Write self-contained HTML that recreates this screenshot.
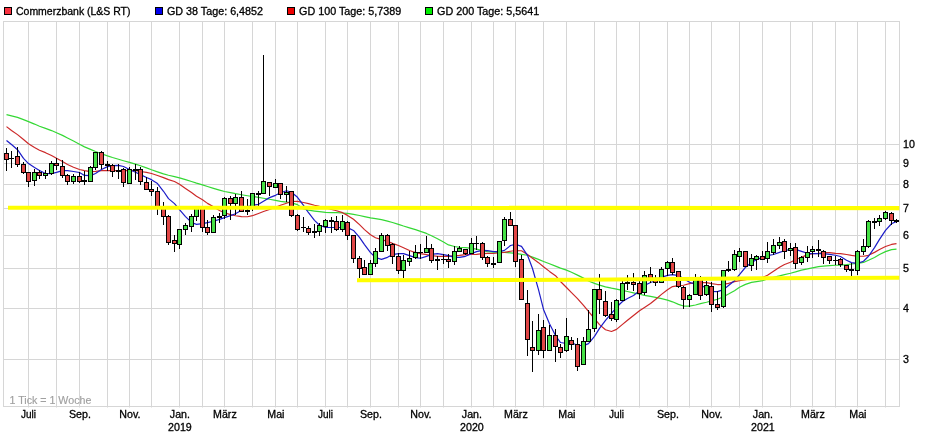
<!DOCTYPE html>
<html lang="de"><head><meta charset="utf-8"><title>Commerzbank (L&amp;S RT) Chart</title>
<style>html,body{margin:0;padding:0;background:#fff}body{width:933px;height:436px;overflow:hidden}svg{display:block}text{font-family:"Liberation Sans",Arial,Helvetica,sans-serif;font-size:10.67px;fill:#000;stroke:#000;stroke-width:0.3px}</style>
</head><body>
<svg width="933" height="436" viewBox="0 0 933 436">
<rect x="0" y="0" width="933" height="436" fill="#fff"/>
<g stroke="#d6d6d6" stroke-width="1" fill="none">
<line x1="28.5" y1="21.5" x2="28.5" y2="407.5"/>
<line x1="56.5" y1="21.5" x2="56.5" y2="407.5"/>
<line x1="79.5" y1="21.5" x2="79.5" y2="407.5"/>
<line x1="107.5" y1="21.5" x2="107.5" y2="407.5"/>
<line x1="129.5" y1="21.5" x2="129.5" y2="407.5"/>
<line x1="151.5" y1="21.5" x2="151.5" y2="407.5"/>
<line x1="179.5" y1="21.5" x2="179.5" y2="407.5"/>
<line x1="202.5" y1="21.5" x2="202.5" y2="407.5"/>
<line x1="224.5" y1="21.5" x2="224.5" y2="407.5"/>
<line x1="252.5" y1="21.5" x2="252.5" y2="407.5"/>
<line x1="275.5" y1="21.5" x2="275.5" y2="407.5"/>
<line x1="297.5" y1="21.5" x2="297.5" y2="407.5"/>
<line x1="325.5" y1="21.5" x2="325.5" y2="407.5"/>
<line x1="347.5" y1="21.5" x2="347.5" y2="407.5"/>
<line x1="370.5" y1="21.5" x2="370.5" y2="407.5"/>
<line x1="398.5" y1="21.5" x2="398.5" y2="407.5"/>
<line x1="420.5" y1="21.5" x2="420.5" y2="407.5"/>
<line x1="443.5" y1="21.5" x2="443.5" y2="407.5"/>
<line x1="471.5" y1="21.5" x2="471.5" y2="407.5"/>
<line x1="493.5" y1="21.5" x2="493.5" y2="407.5"/>
<line x1="515.5" y1="21.5" x2="515.5" y2="407.5"/>
<line x1="543.5" y1="21.5" x2="543.5" y2="407.5"/>
<line x1="566.5" y1="21.5" x2="566.5" y2="407.5"/>
<line x1="594.5" y1="21.5" x2="594.5" y2="407.5"/>
<line x1="616.5" y1="21.5" x2="616.5" y2="407.5"/>
<line x1="639.5" y1="21.5" x2="639.5" y2="407.5"/>
<line x1="667.5" y1="21.5" x2="667.5" y2="407.5"/>
<line x1="689.5" y1="21.5" x2="689.5" y2="407.5"/>
<line x1="711.5" y1="21.5" x2="711.5" y2="407.5"/>
<line x1="739.5" y1="21.5" x2="739.5" y2="407.5"/>
<line x1="762.5" y1="21.5" x2="762.5" y2="407.5"/>
<line x1="790.5" y1="21.5" x2="790.5" y2="407.5"/>
<line x1="812.5" y1="21.5" x2="812.5" y2="407.5"/>
<line x1="835.5" y1="21.5" x2="835.5" y2="407.5"/>
<line x1="857.5" y1="21.5" x2="857.5" y2="407.5"/>
<line x1="885.5" y1="21.5" x2="885.5" y2="407.5"/>
<line x1="3.5" y1="144.5" x2="899.5" y2="144.5"/>
<line x1="3.5" y1="163.5" x2="899.5" y2="163.5"/>
<line x1="3.5" y1="184.5" x2="899.5" y2="184.5"/>
<line x1="3.5" y1="208.5" x2="899.5" y2="208.5"/>
<line x1="3.5" y1="235.5" x2="899.5" y2="235.5"/>
<line x1="3.5" y1="268.5" x2="899.5" y2="268.5"/>
<line x1="3.5" y1="308.5" x2="899.5" y2="308.5"/>
<line x1="3.5" y1="359.5" x2="899.5" y2="359.5"/>
<rect x="3.5" y="21.5" width="896.0" height="385.0"/>
</g>
<text x="9.5" y="403.5" style="fill:#a0a0a0;stroke:#a0a0a0;stroke-width:0.15px">1 Tick = 1 Woche</text>
<polyline fill="none" stroke="#34d834" stroke-width="1.2" stroke-linejoin="round" stroke-linecap="butt" points="6.5,114.62 11.5,115.86 17.5,117.40 23.5,119.58 28.5,121.61 34.5,124.07 39.5,126.26 45.5,128.41 51.5,130.57 56.5,132.80 62.5,135.39 67.5,138.02 73.5,141.06 79.5,144.18 84.5,146.87 90.5,149.37 95.5,151.53 101.5,153.71 107.5,155.84 112.5,157.49 118.5,159.29 123.5,160.73 129.5,162.35 135.5,164.15 140.5,165.78 146.5,167.86 151.5,169.76 157.5,171.86 163.5,173.90 168.5,175.22 174.5,176.58 179.5,177.86 185.5,179.68 191.5,181.52 196.5,183.11 202.5,184.87 207.5,186.49 213.5,188.33 219.5,190.06 224.5,191.51 230.5,192.70 235.5,193.71 241.5,194.75 247.5,195.76 252.5,196.50 258.5,197.32 263.5,198.22 269.5,199.26 275.5,200.36 280.5,201.30 286.5,202.06 291.5,202.82 297.5,204.62 303.5,208.89 308.5,210.15 314.5,211.05 319.5,211.69 325.5,212.34 331.5,212.56 336.5,212.72 342.5,213.02 347.5,213.38 353.5,214.39 359.5,215.51 364.5,216.63 370.5,217.86 375.5,218.70 381.5,219.69 387.5,221.15 392.5,222.54 398.5,224.38 403.5,226.05 409.5,227.85 415.5,229.66 420.5,231.40 426.5,233.43 431.5,235.81 437.5,238.68 443.5,242.06 448.5,244.90 454.5,246.47 459.5,247.29 465.5,247.72 471.5,248.36 476.5,249.09 482.5,250.46 487.5,251.56 493.5,252.19 499.5,252.38 504.5,252.44 510.5,252.81 515.5,253.29 521.5,254.35 527.5,255.28 532.5,257.09 538.5,259.34 543.5,261.44 549.5,263.76 555.5,266.12 560.5,268.10 566.5,270.17 571.5,272.19 577.5,275.14 583.5,278.14 588.5,280.97 594.5,283.35 599.5,285.06 605.5,286.83 611.5,288.19 616.5,289.16 622.5,290.37 627.5,291.53 633.5,292.90 639.5,294.25 644.5,295.30 650.5,296.42 655.5,297.44 661.5,298.64 667.5,300.15 672.5,301.82 678.5,304.39 683.5,306.03 689.5,306.08 695.5,304.97 700.5,303.70 706.5,302.24 711.5,300.90 717.5,299.25 723.5,296.71 728.5,294.06 734.5,290.67 739.5,287.30 745.5,284.41 751.5,282.35 756.5,281.55 762.5,280.67 767.5,278.83 773.5,277.31 779.5,275.89 784.5,274.57 790.5,273.22 795.5,271.94 801.5,270.07 807.5,268.94 812.5,267.80 818.5,266.67 823.5,266.11 829.5,265.60 835.5,265.24 840.5,265.14 846.5,264.67 851.5,264.02 857.5,263.46 863.5,262.43 868.5,260.28 874.5,257.44 879.5,254.55 885.5,251.64 891.5,249.62 896.5,249.21"/>
<polyline fill="none" stroke="#cc2828" stroke-width="1.2" stroke-linejoin="round" stroke-linecap="butt" points="6.5,126.64 11.5,130.46 17.5,134.62 23.5,139.58 28.5,143.70 34.5,147.47 39.5,150.25 45.5,152.67 51.5,155.57 56.5,158.33 62.5,161.49 67.5,164.46 73.5,167.28 79.5,169.49 84.5,170.58 90.5,171.56 95.5,171.41 101.5,170.68 107.5,170.65 112.5,170.64 118.5,170.55 123.5,170.48 129.5,170.57 135.5,170.71 140.5,171.50 146.5,172.40 151.5,173.49 157.5,175.45 163.5,177.58 168.5,179.64 174.5,181.55 179.5,184.29 185.5,188.42 191.5,192.60 196.5,196.30 202.5,199.68 207.5,203.39 213.5,206.74 219.5,210.42 224.5,212.74 230.5,214.69 235.5,215.75 241.5,216.66 247.5,216.74 252.5,215.69 258.5,213.44 263.5,211.52 269.5,209.45 275.5,207.29 280.5,205.28 286.5,203.27 291.5,201.48 297.5,201.46 303.5,202.49 308.5,203.56 314.5,205.27 319.5,206.44 325.5,207.70 331.5,209.47 336.5,210.71 342.5,212.67 347.5,215.38 353.5,219.31 359.5,224.64 364.5,229.59 370.5,234.69 375.5,237.71 381.5,239.68 387.5,241.36 392.5,243.34 398.5,245.52 403.5,247.70 409.5,250.54 415.5,252.61 420.5,253.65 426.5,254.68 431.5,255.53 437.5,256.36 443.5,256.40 448.5,256.37 454.5,255.63 459.5,255.42 465.5,254.71 471.5,254.48 476.5,254.28 482.5,253.53 487.5,253.41 493.5,253.50 499.5,252.73 504.5,252.31 510.5,251.27 515.5,250.53 521.5,250.75 527.5,254.42 532.5,258.35 538.5,262.64 543.5,266.69 549.5,271.40 555.5,275.71 560.5,281.48 566.5,287.46 571.5,292.60 577.5,298.62 583.5,305.31 588.5,311.45 594.5,318.65 599.5,324.66 605.5,329.74 611.5,331.49 616.5,329.40 622.5,324.39 627.5,320.27 633.5,315.44 639.5,310.67 644.5,307.42 650.5,303.52 655.5,299.49 661.5,294.40 667.5,289.66 672.5,286.60 678.5,285.56 683.5,285.26 689.5,283.70 695.5,282.66 700.5,282.60 706.5,282.69 711.5,283.67 717.5,284.53 723.5,284.30 728.5,283.32 734.5,281.58 739.5,280.63 745.5,279.62 751.5,278.62 756.5,278.32 762.5,277.43 767.5,275.32 773.5,271.30 779.5,267.34 784.5,264.48 790.5,262.29 795.5,259.70 801.5,257.28 807.5,254.62 812.5,253.56 818.5,253.35 823.5,252.68 829.5,252.68 835.5,253.36 840.5,253.63 846.5,254.51 851.5,255.44 857.5,256.26 863.5,256.26 868.5,255.31 874.5,252.39 879.5,249.46 885.5,246.48 891.5,244.45 896.5,243.61"/>
<polyline fill="none" stroke="#1c1cc8" stroke-width="1.2" stroke-linejoin="round" stroke-linecap="butt" points="6.5,140.54 11.5,144.56 17.5,149.68 23.5,158.31 28.5,163.55 34.5,167.39 39.5,170.42 45.5,173.52 51.5,173.62 56.5,172.38 62.5,170.57 67.5,170.63 73.5,171.47 79.5,172.53 84.5,175.41 90.5,175.61 95.5,173.45 101.5,169.43 107.5,166.60 112.5,165.63 118.5,165.33 123.5,166.53 129.5,169.53 135.5,172.29 140.5,174.63 146.5,177.45 151.5,179.67 157.5,183.54 163.5,191.28 168.5,198.63 174.5,203.63 179.5,209.68 185.5,216.65 191.5,222.44 196.5,224.35 202.5,223.71 207.5,222.63 213.5,221.28 219.5,219.41 224.5,217.60 230.5,215.68 235.5,213.73 241.5,210.33 247.5,206.63 252.5,205.51 258.5,204.32 263.5,201.30 269.5,197.63 275.5,195.32 280.5,192.72 286.5,190.72 291.5,192.25 297.5,197.29 303.5,205.38 308.5,212.72 314.5,220.31 319.5,225.28 325.5,227.34 331.5,227.49 336.5,227.50 342.5,227.50 347.5,227.62 353.5,230.46 359.5,237.30 364.5,244.58 370.5,252.60 375.5,257.48 381.5,259.43 387.5,257.32 392.5,254.64 398.5,253.56 403.5,253.63 409.5,255.65 415.5,257.58 420.5,258.27 426.5,256.34 431.5,254.44 437.5,253.69 443.5,254.56 448.5,255.65 454.5,257.31 459.5,257.40 465.5,256.32 471.5,253.70 476.5,251.67 482.5,250.34 487.5,250.55 493.5,251.67 499.5,251.66 504.5,250.37 510.5,245.51 515.5,244.30 521.5,246.39 527.5,255.32 532.5,268.53 538.5,289.71 543.5,309.44 549.5,323.67 555.5,335.51 560.5,342.53 566.5,343.52 571.5,342.70 577.5,345.26 583.5,345.58 588.5,343.57 594.5,336.35 599.5,328.34 605.5,320.45 611.5,313.46 616.5,307.27 622.5,301.51 627.5,298.55 633.5,295.44 639.5,290.66 644.5,285.49 650.5,282.45 655.5,280.75 661.5,277.38 667.5,275.42 672.5,274.56 678.5,275.60 683.5,278.61 689.5,282.29 695.5,284.41 700.5,285.62 706.5,287.62 711.5,291.29 717.5,291.58 723.5,289.60 728.5,285.57 734.5,280.72 739.5,274.69 745.5,267.25 751.5,262.53 756.5,259.67 762.5,257.42 767.5,255.68 773.5,254.50 779.5,252.43 784.5,250.73 790.5,249.31 795.5,249.31 801.5,251.32 807.5,253.30 812.5,253.69 818.5,253.53 823.5,253.62 829.5,254.45 835.5,255.25 840.5,256.50 846.5,260.27 851.5,262.63 857.5,263.37 863.5,261.27 868.5,256.28 874.5,247.60 879.5,239.40 885.5,230.30 891.5,223.74 896.5,221.39"/>
<g shape-rendering="crispEdges">
<rect x="6" y="148" width="1" height="23" fill="#000"/>
<rect x="4" y="153" width="5" height="7" fill="#000"/>
<rect x="5" y="154" width="3" height="5" fill="#e04646"/>
<rect x="11" y="151" width="1" height="17" fill="#000"/>
<rect x="9" y="158" width="5" height="1" fill="#000"/>
<rect x="17" y="147" width="1" height="20" fill="#000"/>
<rect x="15" y="156" width="5" height="9" fill="#000"/>
<rect x="16" y="157" width="3" height="7" fill="#e04646"/>
<rect x="23" y="162" width="1" height="12" fill="#000"/>
<rect x="21" y="164" width="5" height="9" fill="#000"/>
<rect x="22" y="165" width="3" height="7" fill="#e04646"/>
<rect x="28" y="172" width="1" height="15" fill="#000"/>
<rect x="26" y="172" width="5" height="10" fill="#000"/>
<rect x="27" y="173" width="3" height="8" fill="#e04646"/>
<rect x="34" y="169" width="1" height="17" fill="#000"/>
<rect x="32" y="172" width="5" height="9" fill="#000"/>
<rect x="33" y="173" width="3" height="7" fill="#46e046"/>
<rect x="39" y="170" width="1" height="9" fill="#000"/>
<rect x="37" y="172" width="5" height="4" fill="#000"/>
<rect x="38" y="173" width="3" height="2" fill="#e04646"/>
<rect x="45" y="170" width="1" height="9" fill="#000"/>
<rect x="43" y="173" width="5" height="3" fill="#000"/>
<rect x="44" y="174" width="3" height="1" fill="#46e046"/>
<rect x="51" y="161" width="1" height="14" fill="#000"/>
<rect x="49" y="163" width="5" height="11" fill="#000"/>
<rect x="50" y="164" width="3" height="9" fill="#46e046"/>
<rect x="56" y="158" width="1" height="12" fill="#000"/>
<rect x="54" y="163" width="5" height="3" fill="#000"/>
<rect x="55" y="164" width="3" height="1" fill="#e04646"/>
<rect x="62" y="160" width="1" height="18" fill="#000"/>
<rect x="60" y="166" width="5" height="10" fill="#000"/>
<rect x="61" y="167" width="3" height="8" fill="#e04646"/>
<rect x="67" y="174" width="1" height="11" fill="#000"/>
<rect x="65" y="175" width="5" height="7" fill="#000"/>
<rect x="66" y="176" width="3" height="5" fill="#e04646"/>
<rect x="73" y="174" width="1" height="10" fill="#000"/>
<rect x="71" y="176" width="5" height="6" fill="#000"/>
<rect x="72" y="177" width="3" height="4" fill="#46e046"/>
<rect x="79" y="172" width="1" height="11" fill="#000"/>
<rect x="77" y="176" width="5" height="6" fill="#000"/>
<rect x="78" y="177" width="3" height="4" fill="#e04646"/>
<rect x="84" y="171" width="1" height="14" fill="#000"/>
<rect x="82" y="180" width="5" height="2" fill="#000"/>
<rect x="90" y="166" width="1" height="16" fill="#000"/>
<rect x="88" y="167" width="5" height="15" fill="#000"/>
<rect x="89" y="168" width="3" height="13" fill="#46e046"/>
<rect x="95" y="152" width="1" height="18" fill="#000"/>
<rect x="93" y="152" width="5" height="16" fill="#000"/>
<rect x="94" y="153" width="3" height="14" fill="#46e046"/>
<rect x="101" y="151" width="1" height="18" fill="#000"/>
<rect x="99" y="152" width="5" height="13" fill="#000"/>
<rect x="100" y="153" width="3" height="11" fill="#e04646"/>
<rect x="107" y="161" width="1" height="10" fill="#000"/>
<rect x="105" y="164" width="5" height="2" fill="#000"/>
<rect x="112" y="164" width="1" height="13" fill="#000"/>
<rect x="110" y="165" width="5" height="7" fill="#000"/>
<rect x="111" y="166" width="3" height="5" fill="#e04646"/>
<rect x="118" y="164" width="1" height="15" fill="#000"/>
<rect x="116" y="170" width="5" height="2" fill="#000"/>
<rect x="123" y="168" width="1" height="19" fill="#000"/>
<rect x="121" y="169" width="5" height="14" fill="#000"/>
<rect x="122" y="170" width="3" height="12" fill="#e04646"/>
<rect x="129" y="167" width="1" height="17" fill="#000"/>
<rect x="127" y="169" width="5" height="15" fill="#000"/>
<rect x="128" y="170" width="3" height="13" fill="#46e046"/>
<rect x="135" y="164" width="1" height="16" fill="#000"/>
<rect x="133" y="169" width="5" height="2" fill="#000"/>
<rect x="140" y="167" width="1" height="18" fill="#000"/>
<rect x="138" y="169" width="5" height="13" fill="#000"/>
<rect x="139" y="170" width="3" height="11" fill="#e04646"/>
<rect x="146" y="177" width="1" height="13" fill="#000"/>
<rect x="144" y="182" width="5" height="8" fill="#000"/>
<rect x="145" y="183" width="3" height="6" fill="#e04646"/>
<rect x="151" y="181" width="1" height="15" fill="#000"/>
<rect x="149" y="189" width="5" height="3" fill="#000"/>
<rect x="150" y="190" width="3" height="1" fill="#e04646"/>
<rect x="157" y="187" width="1" height="28" fill="#000"/>
<rect x="155" y="191" width="5" height="17" fill="#000"/>
<rect x="156" y="192" width="3" height="15" fill="#e04646"/>
<rect x="163" y="202" width="1" height="23" fill="#000"/>
<rect x="161" y="207" width="5" height="10" fill="#000"/>
<rect x="162" y="208" width="3" height="8" fill="#e04646"/>
<rect x="168" y="215" width="1" height="30" fill="#000"/>
<rect x="166" y="216" width="5" height="27" fill="#000"/>
<rect x="167" y="217" width="3" height="25" fill="#e04646"/>
<rect x="174" y="235" width="1" height="17" fill="#000"/>
<rect x="172" y="240" width="5" height="4" fill="#000"/>
<rect x="173" y="241" width="3" height="2" fill="#e04646"/>
<rect x="179" y="229" width="1" height="20" fill="#000"/>
<rect x="177" y="229" width="5" height="16" fill="#000"/>
<rect x="178" y="230" width="3" height="14" fill="#46e046"/>
<rect x="185" y="223" width="1" height="12" fill="#000"/>
<rect x="183" y="225" width="5" height="5" fill="#000"/>
<rect x="184" y="226" width="3" height="3" fill="#46e046"/>
<rect x="191" y="214" width="1" height="18" fill="#000"/>
<rect x="189" y="216" width="5" height="11" fill="#000"/>
<rect x="190" y="217" width="3" height="9" fill="#46e046"/>
<rect x="196" y="206" width="1" height="15" fill="#000"/>
<rect x="194" y="207" width="5" height="10" fill="#000"/>
<rect x="195" y="208" width="3" height="8" fill="#46e046"/>
<rect x="202" y="206" width="1" height="26" fill="#000"/>
<rect x="200" y="207" width="5" height="21" fill="#000"/>
<rect x="201" y="208" width="3" height="19" fill="#e04646"/>
<rect x="207" y="220" width="1" height="15" fill="#000"/>
<rect x="205" y="227" width="5" height="6" fill="#000"/>
<rect x="206" y="228" width="3" height="4" fill="#e04646"/>
<rect x="213" y="215" width="1" height="18" fill="#000"/>
<rect x="211" y="217" width="5" height="16" fill="#000"/>
<rect x="212" y="218" width="3" height="14" fill="#46e046"/>
<rect x="219" y="213" width="1" height="10" fill="#000"/>
<rect x="217" y="216" width="5" height="2" fill="#000"/>
<rect x="224" y="197" width="1" height="22" fill="#000"/>
<rect x="222" y="198" width="5" height="18" fill="#000"/>
<rect x="223" y="199" width="3" height="16" fill="#46e046"/>
<rect x="230" y="196" width="1" height="24" fill="#000"/>
<rect x="228" y="198" width="5" height="6" fill="#000"/>
<rect x="229" y="199" width="3" height="4" fill="#e04646"/>
<rect x="235" y="194" width="1" height="21" fill="#000"/>
<rect x="233" y="197" width="5" height="7" fill="#000"/>
<rect x="234" y="198" width="3" height="5" fill="#46e046"/>
<rect x="241" y="191" width="1" height="21" fill="#000"/>
<rect x="239" y="197" width="5" height="15" fill="#000"/>
<rect x="240" y="198" width="3" height="13" fill="#e04646"/>
<rect x="247" y="199" width="1" height="16" fill="#000"/>
<rect x="245" y="210" width="5" height="2" fill="#000"/>
<rect x="252" y="193" width="1" height="18" fill="#000"/>
<rect x="250" y="193" width="5" height="14" fill="#000"/>
<rect x="251" y="194" width="3" height="12" fill="#46e046"/>
<rect x="258" y="191" width="1" height="15" fill="#000"/>
<rect x="256" y="193" width="5" height="2" fill="#000"/>
<rect x="263" y="55" width="1" height="139" fill="#000"/>
<rect x="261" y="181" width="5" height="13" fill="#000"/>
<rect x="262" y="182" width="3" height="11" fill="#46e046"/>
<rect x="269" y="182" width="1" height="14" fill="#000"/>
<rect x="267" y="182" width="5" height="5" fill="#000"/>
<rect x="268" y="183" width="3" height="3" fill="#e04646"/>
<rect x="275" y="179" width="1" height="9" fill="#000"/>
<rect x="273" y="183" width="5" height="5" fill="#000"/>
<rect x="274" y="184" width="3" height="3" fill="#46e046"/>
<rect x="280" y="183" width="1" height="16" fill="#000"/>
<rect x="278" y="183" width="5" height="12" fill="#000"/>
<rect x="279" y="184" width="3" height="10" fill="#e04646"/>
<rect x="286" y="186" width="1" height="16" fill="#000"/>
<rect x="284" y="192" width="5" height="3" fill="#000"/>
<rect x="285" y="193" width="3" height="1" fill="#46e046"/>
<rect x="291" y="191" width="1" height="26" fill="#000"/>
<rect x="289" y="191" width="5" height="25" fill="#000"/>
<rect x="290" y="192" width="3" height="23" fill="#e04646"/>
<rect x="297" y="214" width="1" height="17" fill="#000"/>
<rect x="295" y="215" width="5" height="15" fill="#000"/>
<rect x="296" y="216" width="3" height="13" fill="#e04646"/>
<rect x="303" y="217" width="1" height="15" fill="#000"/>
<rect x="301" y="227" width="5" height="1" fill="#000"/>
<rect x="308" y="226" width="1" height="9" fill="#000"/>
<rect x="306" y="228" width="5" height="5" fill="#000"/>
<rect x="307" y="229" width="3" height="3" fill="#e04646"/>
<rect x="314" y="224" width="1" height="14" fill="#000"/>
<rect x="312" y="231" width="5" height="2" fill="#000"/>
<rect x="319" y="223" width="1" height="13" fill="#000"/>
<rect x="317" y="225" width="5" height="7" fill="#000"/>
<rect x="318" y="226" width="3" height="5" fill="#46e046"/>
<rect x="325" y="219" width="1" height="14" fill="#000"/>
<rect x="323" y="220" width="5" height="7" fill="#000"/>
<rect x="324" y="221" width="3" height="5" fill="#46e046"/>
<rect x="331" y="217" width="1" height="16" fill="#000"/>
<rect x="329" y="220" width="5" height="2" fill="#000"/>
<rect x="336" y="216" width="1" height="15" fill="#000"/>
<rect x="334" y="221" width="5" height="9" fill="#000"/>
<rect x="335" y="222" width="3" height="7" fill="#e04646"/>
<rect x="342" y="215" width="1" height="17" fill="#000"/>
<rect x="340" y="221" width="5" height="9" fill="#000"/>
<rect x="341" y="222" width="3" height="7" fill="#46e046"/>
<rect x="347" y="221" width="1" height="19" fill="#000"/>
<rect x="345" y="222" width="5" height="14" fill="#000"/>
<rect x="346" y="223" width="3" height="12" fill="#e04646"/>
<rect x="353" y="235" width="1" height="28" fill="#000"/>
<rect x="351" y="235" width="5" height="24" fill="#000"/>
<rect x="352" y="236" width="3" height="22" fill="#e04646"/>
<rect x="359" y="256" width="1" height="22" fill="#000"/>
<rect x="357" y="258" width="5" height="11" fill="#000"/>
<rect x="358" y="259" width="3" height="9" fill="#e04646"/>
<rect x="364" y="260" width="1" height="15" fill="#000"/>
<rect x="362" y="267" width="5" height="8" fill="#000"/>
<rect x="363" y="268" width="3" height="6" fill="#e04646"/>
<rect x="370" y="260" width="1" height="15" fill="#000"/>
<rect x="368" y="263" width="5" height="12" fill="#000"/>
<rect x="369" y="264" width="3" height="10" fill="#46e046"/>
<rect x="375" y="248" width="1" height="19" fill="#000"/>
<rect x="373" y="251" width="5" height="13" fill="#000"/>
<rect x="374" y="252" width="3" height="11" fill="#46e046"/>
<rect x="381" y="233" width="1" height="19" fill="#000"/>
<rect x="379" y="235" width="5" height="17" fill="#000"/>
<rect x="380" y="236" width="3" height="15" fill="#46e046"/>
<rect x="387" y="234" width="1" height="17" fill="#000"/>
<rect x="385" y="235" width="5" height="11" fill="#000"/>
<rect x="386" y="236" width="3" height="9" fill="#e04646"/>
<rect x="392" y="243" width="1" height="21" fill="#000"/>
<rect x="390" y="244" width="5" height="13" fill="#000"/>
<rect x="391" y="245" width="3" height="11" fill="#e04646"/>
<rect x="398" y="253" width="1" height="21" fill="#000"/>
<rect x="396" y="256" width="5" height="15" fill="#000"/>
<rect x="397" y="257" width="3" height="13" fill="#e04646"/>
<rect x="403" y="255" width="1" height="23" fill="#000"/>
<rect x="401" y="260" width="5" height="11" fill="#000"/>
<rect x="402" y="261" width="3" height="9" fill="#46e046"/>
<rect x="409" y="251" width="1" height="15" fill="#000"/>
<rect x="407" y="258" width="5" height="4" fill="#000"/>
<rect x="408" y="259" width="3" height="2" fill="#46e046"/>
<rect x="415" y="245" width="1" height="14" fill="#000"/>
<rect x="413" y="252" width="5" height="6" fill="#000"/>
<rect x="414" y="253" width="3" height="4" fill="#46e046"/>
<rect x="420" y="244" width="1" height="15" fill="#000"/>
<rect x="418" y="252" width="5" height="1" fill="#000"/>
<rect x="426" y="236" width="1" height="17" fill="#000"/>
<rect x="424" y="248" width="5" height="5" fill="#000"/>
<rect x="425" y="249" width="3" height="3" fill="#46e046"/>
<rect x="431" y="244" width="1" height="19" fill="#000"/>
<rect x="429" y="248" width="5" height="13" fill="#000"/>
<rect x="430" y="249" width="3" height="11" fill="#e04646"/>
<rect x="437" y="256" width="1" height="14" fill="#000"/>
<rect x="435" y="259" width="5" height="2" fill="#000"/>
<rect x="443" y="254" width="1" height="10" fill="#000"/>
<rect x="441" y="259" width="5" height="1" fill="#000"/>
<rect x="448" y="254" width="1" height="14" fill="#000"/>
<rect x="446" y="259" width="5" height="3" fill="#000"/>
<rect x="447" y="260" width="3" height="1" fill="#e04646"/>
<rect x="454" y="246" width="1" height="19" fill="#000"/>
<rect x="452" y="251" width="5" height="11" fill="#000"/>
<rect x="453" y="252" width="3" height="9" fill="#46e046"/>
<rect x="459" y="246" width="1" height="6" fill="#000"/>
<rect x="457" y="248" width="5" height="4" fill="#000"/>
<rect x="458" y="249" width="3" height="2" fill="#46e046"/>
<rect x="465" y="249" width="1" height="6" fill="#000"/>
<rect x="463" y="249" width="5" height="5" fill="#000"/>
<rect x="464" y="250" width="3" height="3" fill="#e04646"/>
<rect x="471" y="238" width="1" height="16" fill="#000"/>
<rect x="469" y="243" width="5" height="11" fill="#000"/>
<rect x="470" y="244" width="3" height="9" fill="#46e046"/>
<rect x="476" y="236" width="1" height="14" fill="#000"/>
<rect x="474" y="243" width="5" height="1" fill="#000"/>
<rect x="482" y="242" width="1" height="18" fill="#000"/>
<rect x="480" y="243" width="5" height="15" fill="#000"/>
<rect x="481" y="244" width="3" height="13" fill="#e04646"/>
<rect x="487" y="256" width="1" height="11" fill="#000"/>
<rect x="485" y="257" width="5" height="7" fill="#000"/>
<rect x="486" y="258" width="3" height="5" fill="#e04646"/>
<rect x="493" y="257" width="1" height="11" fill="#000"/>
<rect x="491" y="263" width="5" height="2" fill="#000"/>
<rect x="499" y="241" width="1" height="22" fill="#000"/>
<rect x="497" y="241" width="5" height="22" fill="#000"/>
<rect x="498" y="242" width="3" height="20" fill="#46e046"/>
<rect x="504" y="217" width="1" height="29" fill="#000"/>
<rect x="502" y="219" width="5" height="22" fill="#000"/>
<rect x="503" y="220" width="3" height="20" fill="#46e046"/>
<rect x="510" y="212" width="1" height="14" fill="#000"/>
<rect x="508" y="219" width="5" height="7" fill="#000"/>
<rect x="509" y="220" width="3" height="5" fill="#e04646"/>
<rect x="515" y="225" width="1" height="42" fill="#000"/>
<rect x="513" y="225" width="5" height="37" fill="#000"/>
<rect x="514" y="226" width="3" height="35" fill="#e04646"/>
<rect x="521" y="255" width="1" height="45" fill="#000"/>
<rect x="519" y="259" width="5" height="41" fill="#000"/>
<rect x="520" y="260" width="3" height="39" fill="#e04646"/>
<rect x="527" y="290" width="1" height="66" fill="#000"/>
<rect x="525" y="303" width="5" height="37" fill="#000"/>
<rect x="526" y="304" width="3" height="35" fill="#e04646"/>
<rect x="532" y="321" width="1" height="51" fill="#000"/>
<rect x="530" y="347" width="5" height="4" fill="#000"/>
<rect x="531" y="348" width="3" height="2" fill="#e04646"/>
<rect x="538" y="314" width="1" height="41" fill="#000"/>
<rect x="536" y="330" width="5" height="21" fill="#000"/>
<rect x="537" y="331" width="3" height="19" fill="#46e046"/>
<rect x="543" y="320" width="1" height="38" fill="#000"/>
<rect x="541" y="327" width="5" height="24" fill="#000"/>
<rect x="542" y="328" width="3" height="22" fill="#e04646"/>
<rect x="549" y="325" width="1" height="26" fill="#000"/>
<rect x="547" y="335" width="5" height="16" fill="#000"/>
<rect x="548" y="336" width="3" height="14" fill="#46e046"/>
<rect x="555" y="329" width="1" height="33" fill="#000"/>
<rect x="553" y="335" width="5" height="12" fill="#000"/>
<rect x="554" y="336" width="3" height="10" fill="#e04646"/>
<rect x="560" y="344" width="1" height="14" fill="#000"/>
<rect x="558" y="347" width="5" height="6" fill="#000"/>
<rect x="559" y="348" width="3" height="4" fill="#e04646"/>
<rect x="566" y="318" width="1" height="34" fill="#000"/>
<rect x="564" y="336" width="5" height="15" fill="#000"/>
<rect x="565" y="337" width="3" height="13" fill="#46e046"/>
<rect x="571" y="337" width="1" height="13" fill="#000"/>
<rect x="569" y="340" width="5" height="5" fill="#000"/>
<rect x="570" y="341" width="3" height="3" fill="#e04646"/>
<rect x="577" y="338" width="1" height="33" fill="#000"/>
<rect x="575" y="344" width="5" height="23" fill="#000"/>
<rect x="576" y="345" width="3" height="21" fill="#e04646"/>
<rect x="583" y="337" width="1" height="28" fill="#000"/>
<rect x="581" y="341" width="5" height="24" fill="#000"/>
<rect x="582" y="342" width="3" height="22" fill="#46e046"/>
<rect x="588" y="310" width="1" height="32" fill="#000"/>
<rect x="586" y="329" width="5" height="13" fill="#000"/>
<rect x="587" y="330" width="3" height="11" fill="#46e046"/>
<rect x="594" y="289" width="1" height="43" fill="#000"/>
<rect x="592" y="289" width="5" height="40" fill="#000"/>
<rect x="593" y="290" width="3" height="38" fill="#46e046"/>
<rect x="599" y="274" width="1" height="40" fill="#000"/>
<rect x="597" y="289" width="5" height="11" fill="#000"/>
<rect x="598" y="290" width="3" height="9" fill="#e04646"/>
<rect x="605" y="291" width="1" height="26" fill="#000"/>
<rect x="603" y="301" width="5" height="15" fill="#000"/>
<rect x="604" y="302" width="3" height="13" fill="#e04646"/>
<rect x="611" y="302" width="1" height="19" fill="#000"/>
<rect x="609" y="314" width="5" height="5" fill="#000"/>
<rect x="610" y="315" width="3" height="3" fill="#e04646"/>
<rect x="616" y="299" width="1" height="23" fill="#000"/>
<rect x="614" y="300" width="5" height="20" fill="#000"/>
<rect x="615" y="301" width="3" height="18" fill="#46e046"/>
<rect x="622" y="281" width="1" height="20" fill="#000"/>
<rect x="620" y="283" width="5" height="18" fill="#000"/>
<rect x="621" y="284" width="3" height="16" fill="#46e046"/>
<rect x="627" y="275" width="1" height="15" fill="#000"/>
<rect x="625" y="282" width="5" height="2" fill="#000"/>
<rect x="633" y="273" width="1" height="18" fill="#000"/>
<rect x="631" y="282" width="5" height="3" fill="#000"/>
<rect x="632" y="283" width="3" height="1" fill="#e04646"/>
<rect x="639" y="281" width="1" height="18" fill="#000"/>
<rect x="637" y="283" width="5" height="11" fill="#000"/>
<rect x="638" y="284" width="3" height="9" fill="#e04646"/>
<rect x="644" y="271" width="1" height="24" fill="#000"/>
<rect x="642" y="275" width="5" height="18" fill="#000"/>
<rect x="643" y="276" width="3" height="16" fill="#46e046"/>
<rect x="650" y="267" width="1" height="16" fill="#000"/>
<rect x="648" y="274" width="5" height="6" fill="#000"/>
<rect x="649" y="275" width="3" height="4" fill="#e04646"/>
<rect x="655" y="275" width="1" height="11" fill="#000"/>
<rect x="653" y="279" width="5" height="4" fill="#000"/>
<rect x="654" y="280" width="3" height="2" fill="#e04646"/>
<rect x="661" y="267" width="1" height="16" fill="#000"/>
<rect x="659" y="269" width="5" height="14" fill="#000"/>
<rect x="660" y="270" width="3" height="12" fill="#46e046"/>
<rect x="667" y="261" width="1" height="15" fill="#000"/>
<rect x="665" y="262" width="5" height="7" fill="#000"/>
<rect x="666" y="263" width="3" height="5" fill="#46e046"/>
<rect x="672" y="258" width="1" height="17" fill="#000"/>
<rect x="670" y="262" width="5" height="11" fill="#000"/>
<rect x="671" y="263" width="3" height="9" fill="#e04646"/>
<rect x="678" y="271" width="1" height="17" fill="#000"/>
<rect x="676" y="271" width="5" height="16" fill="#000"/>
<rect x="677" y="272" width="3" height="14" fill="#e04646"/>
<rect x="683" y="286" width="1" height="23" fill="#000"/>
<rect x="681" y="287" width="5" height="13" fill="#000"/>
<rect x="682" y="288" width="3" height="11" fill="#e04646"/>
<rect x="689" y="294" width="1" height="13" fill="#000"/>
<rect x="687" y="295" width="5" height="5" fill="#000"/>
<rect x="688" y="296" width="3" height="3" fill="#46e046"/>
<rect x="695" y="274" width="1" height="21" fill="#000"/>
<rect x="693" y="279" width="5" height="16" fill="#000"/>
<rect x="694" y="280" width="3" height="14" fill="#46e046"/>
<rect x="700" y="276" width="1" height="24" fill="#000"/>
<rect x="698" y="279" width="5" height="17" fill="#000"/>
<rect x="699" y="280" width="3" height="15" fill="#e04646"/>
<rect x="706" y="281" width="1" height="15" fill="#000"/>
<rect x="704" y="285" width="5" height="10" fill="#000"/>
<rect x="705" y="286" width="3" height="8" fill="#46e046"/>
<rect x="711" y="282" width="1" height="30" fill="#000"/>
<rect x="709" y="286" width="5" height="19" fill="#000"/>
<rect x="710" y="287" width="3" height="17" fill="#e04646"/>
<rect x="717" y="291" width="1" height="19" fill="#000"/>
<rect x="715" y="304" width="5" height="4" fill="#000"/>
<rect x="716" y="305" width="3" height="2" fill="#e04646"/>
<rect x="723" y="270" width="1" height="38" fill="#000"/>
<rect x="721" y="270" width="5" height="37" fill="#000"/>
<rect x="722" y="271" width="3" height="35" fill="#46e046"/>
<rect x="728" y="261" width="1" height="11" fill="#000"/>
<rect x="726" y="269" width="5" height="2" fill="#000"/>
<rect x="734" y="250" width="1" height="21" fill="#000"/>
<rect x="732" y="254" width="5" height="16" fill="#000"/>
<rect x="733" y="255" width="3" height="14" fill="#46e046"/>
<rect x="739" y="248" width="1" height="14" fill="#000"/>
<rect x="737" y="251" width="5" height="6" fill="#000"/>
<rect x="738" y="252" width="3" height="4" fill="#46e046"/>
<rect x="745" y="251" width="1" height="16" fill="#000"/>
<rect x="743" y="251" width="5" height="16" fill="#000"/>
<rect x="744" y="252" width="3" height="14" fill="#e04646"/>
<rect x="751" y="254" width="1" height="17" fill="#000"/>
<rect x="749" y="258" width="5" height="8" fill="#000"/>
<rect x="750" y="259" width="3" height="6" fill="#46e046"/>
<rect x="756" y="255" width="1" height="15" fill="#000"/>
<rect x="754" y="256" width="5" height="4" fill="#000"/>
<rect x="755" y="257" width="3" height="2" fill="#46e046"/>
<rect x="762" y="251" width="1" height="9" fill="#000"/>
<rect x="760" y="256" width="5" height="4" fill="#000"/>
<rect x="761" y="257" width="3" height="2" fill="#e04646"/>
<rect x="767" y="242" width="1" height="21" fill="#000"/>
<rect x="765" y="251" width="5" height="8" fill="#000"/>
<rect x="766" y="252" width="3" height="6" fill="#46e046"/>
<rect x="773" y="239" width="1" height="16" fill="#000"/>
<rect x="771" y="245" width="5" height="8" fill="#000"/>
<rect x="772" y="246" width="3" height="6" fill="#46e046"/>
<rect x="779" y="237" width="1" height="12" fill="#000"/>
<rect x="777" y="242" width="5" height="4" fill="#000"/>
<rect x="778" y="243" width="3" height="2" fill="#46e046"/>
<rect x="784" y="239" width="1" height="20" fill="#000"/>
<rect x="782" y="241" width="5" height="11" fill="#000"/>
<rect x="783" y="242" width="3" height="9" fill="#e04646"/>
<rect x="790" y="243" width="1" height="13" fill="#000"/>
<rect x="788" y="248" width="5" height="3" fill="#000"/>
<rect x="789" y="249" width="3" height="1" fill="#46e046"/>
<rect x="795" y="243" width="1" height="26" fill="#000"/>
<rect x="793" y="247" width="5" height="17" fill="#000"/>
<rect x="794" y="248" width="3" height="15" fill="#e04646"/>
<rect x="801" y="256" width="1" height="9" fill="#000"/>
<rect x="799" y="257" width="5" height="6" fill="#000"/>
<rect x="800" y="258" width="3" height="4" fill="#46e046"/>
<rect x="807" y="246" width="1" height="16" fill="#000"/>
<rect x="805" y="252" width="5" height="6" fill="#000"/>
<rect x="806" y="253" width="3" height="4" fill="#46e046"/>
<rect x="812" y="246" width="1" height="12" fill="#000"/>
<rect x="810" y="249" width="5" height="3" fill="#000"/>
<rect x="811" y="250" width="3" height="1" fill="#46e046"/>
<rect x="818" y="240" width="1" height="17" fill="#000"/>
<rect x="816" y="249" width="5" height="2" fill="#000"/>
<rect x="823" y="250" width="1" height="14" fill="#000"/>
<rect x="821" y="251" width="5" height="7" fill="#000"/>
<rect x="822" y="252" width="3" height="5" fill="#e04646"/>
<rect x="829" y="256" width="1" height="8" fill="#000"/>
<rect x="827" y="256" width="5" height="5" fill="#000"/>
<rect x="828" y="257" width="3" height="3" fill="#e04646"/>
<rect x="835" y="256" width="1" height="9" fill="#000"/>
<rect x="833" y="260" width="5" height="1" fill="#000"/>
<rect x="840" y="258" width="1" height="9" fill="#000"/>
<rect x="838" y="259" width="5" height="6" fill="#000"/>
<rect x="839" y="260" width="3" height="4" fill="#e04646"/>
<rect x="846" y="265" width="1" height="7" fill="#000"/>
<rect x="844" y="265" width="5" height="5" fill="#000"/>
<rect x="845" y="266" width="3" height="3" fill="#e04646"/>
<rect x="851" y="263" width="1" height="13" fill="#000"/>
<rect x="849" y="269" width="5" height="2" fill="#000"/>
<rect x="857" y="250" width="1" height="25" fill="#000"/>
<rect x="855" y="251" width="5" height="20" fill="#000"/>
<rect x="856" y="252" width="3" height="18" fill="#46e046"/>
<rect x="863" y="239" width="1" height="16" fill="#000"/>
<rect x="861" y="246" width="5" height="6" fill="#000"/>
<rect x="862" y="247" width="3" height="4" fill="#46e046"/>
<rect x="868" y="220" width="1" height="28" fill="#000"/>
<rect x="866" y="221" width="5" height="26" fill="#000"/>
<rect x="867" y="222" width="3" height="24" fill="#46e046"/>
<rect x="874" y="218" width="1" height="11" fill="#000"/>
<rect x="872" y="221" width="5" height="2" fill="#000"/>
<rect x="879" y="215" width="1" height="11" fill="#000"/>
<rect x="877" y="218" width="5" height="4" fill="#000"/>
<rect x="878" y="219" width="3" height="2" fill="#46e046"/>
<rect x="885" y="211" width="1" height="9" fill="#000"/>
<rect x="883" y="212" width="5" height="7" fill="#000"/>
<rect x="884" y="213" width="3" height="5" fill="#46e046"/>
<rect x="891" y="212" width="1" height="13" fill="#000"/>
<rect x="889" y="213" width="5" height="8" fill="#000"/>
<rect x="890" y="214" width="3" height="6" fill="#e04646"/>
<rect x="896" y="219" width="1" height="4" fill="#000"/>
<rect x="894" y="220" width="5" height="2" fill="#000"/>
</g>
<line x1="8" y1="207.7" x2="899.3" y2="208.1" stroke="#ffff00" stroke-width="4.1"/>
<polyline points="357,280.2 580,279.8 680,279 760,278.2 899.3,277.8" fill="none" stroke="#ffff00" stroke-width="4.1"/>
<rect x="4.5" y="7.5" width="7" height="7" fill="#fa3240" stroke="#000" stroke-width="1"/>
<text x="16" y="15" textLength="114.5" lengthAdjust="spacingAndGlyphs">Commerzbank (L&amp;S RT)</text>
<rect x="155.5" y="7.5" width="7" height="7" fill="#0000ee" stroke="#000" stroke-width="1"/>
<text x="167" y="15" textLength="96" lengthAdjust="spacingAndGlyphs">GD 38 Tage: 6,4852</text>
<rect x="287.5" y="7.5" width="7" height="7" fill="#ee0000" stroke="#000" stroke-width="1"/>
<text x="299" y="15" textLength="102.2" lengthAdjust="spacingAndGlyphs">GD 100 Tage: 5,7389</text>
<rect x="425.5" y="7.5" width="7" height="7" fill="#00ee00" stroke="#000" stroke-width="1"/>
<text x="437" y="15" textLength="102.2" lengthAdjust="spacingAndGlyphs">GD 200 Tage: 5,5641</text>
<text x="903.1" y="148.3">10</text>
<text x="903.1" y="167.3">9</text>
<text x="903.1" y="188.3">8</text>
<text x="903.1" y="212.3">7</text>
<text x="903.1" y="239.3">6</text>
<text x="903.1" y="272.3">5</text>
<text x="903.1" y="312.3">4</text>
<text x="903.1" y="363.3">3</text>
<text x="28.4" y="418" text-anchor="middle" textLength="15" lengthAdjust="spacingAndGlyphs">Juli</text>
<text x="79.9" y="418" text-anchor="middle">Sep.</text>
<text x="129.9" y="418" text-anchor="middle">Nov.</text>
<text x="179.9" y="418" text-anchor="middle">Jan.</text>
<text x="179.9" y="431" text-anchor="middle">2019</text>
<text x="224.9" y="418" text-anchor="middle">März</text>
<text x="275.9" y="418" text-anchor="middle">Mai</text>
<text x="325.4" y="418" text-anchor="middle" textLength="15" lengthAdjust="spacingAndGlyphs">Juli</text>
<text x="370.9" y="418" text-anchor="middle">Sep.</text>
<text x="420.9" y="418" text-anchor="middle">Nov.</text>
<text x="471.9" y="418" text-anchor="middle">Jan.</text>
<text x="471.9" y="431" text-anchor="middle">2020</text>
<text x="515.9" y="418" text-anchor="middle">März</text>
<text x="566.9" y="418" text-anchor="middle">Mai</text>
<text x="616.4" y="418" text-anchor="middle" textLength="15" lengthAdjust="spacingAndGlyphs">Juli</text>
<text x="667.9" y="418" text-anchor="middle">Sep.</text>
<text x="711.9" y="418" text-anchor="middle">Nov.</text>
<text x="762.9" y="418" text-anchor="middle">Jan.</text>
<text x="762.9" y="431" text-anchor="middle">2021</text>
<text x="812.9" y="418" text-anchor="middle">März</text>
<text x="857.9" y="418" text-anchor="middle">Mai</text>
</svg>
</body></html>
